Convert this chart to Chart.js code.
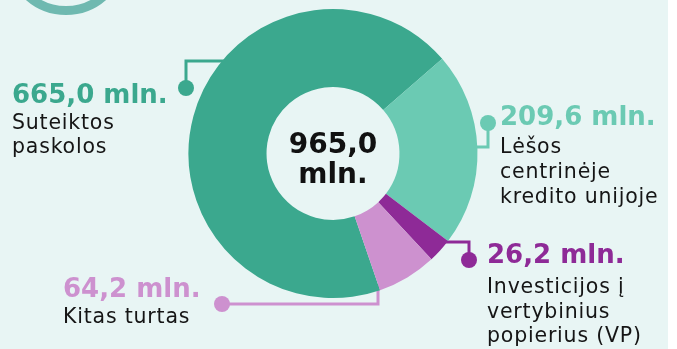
<!DOCTYPE html>
<html>
<head>
<meta charset="utf-8">
<script src="https://cdn.jsdelivr.net/npm/chart.js@4"></script>
<style>
  html, body { margin: 0; padding: 0; background: #ffffff; }
  canvas { display: block; }
</style>
</head>
<body>
<canvas id="assetsChart" width="677" height="349"></canvas>
<script>
// chart data
const categories = [
    ['Suteiktos', 'paskolos'],
    ['Lėšos', 'centrinėje', 'kredito unijoje'],
    ['Investicijos į', 'vertybinius', 'popierius (VP)'],
    ['Kitas turtas']
];
const values = [665.0, 209.6, 26.2, 64.2];
const totalValue = 965.0;
const colors = ['#3ba88e', '#6bcab3', '#8e2a97', '#cd91cf'];

const BG = '#e8f5f4';
const FONT = '"DejaVu Sans", Verdana, sans-serif';

// where each callout sits: dot, elbow and text block
const callouts = [
    { dot: [186, 88], lead: 'h', y: 61, text: [12, 103], lines: [129, 153] },
    { dot: [488, 123], lead: 'h', y: 147, text: [500, 125], lines: [153, 178, 203] },
    { dot: [469, 260], lead: 'h', y: 242, text: [487, 263], lines: [293, 318, 342] },
    { dot: [222, 304], lead: 'v', x: 378, text: [63, 297], lines: [323] }
];

function fmt(v) {
    return v.toFixed(1).replace('.', ',') + ' mln.';
}

const backdrop = {
    id: 'backdrop',
    beforeDraw(chart) {
        const c = chart.ctx;
        c.save();
        c.fillStyle = BG;
        c.fillRect(0, 0, 668, chart.height);
        // decorative ring in the corner
        c.strokeStyle = '#6fb9b0';
        c.lineWidth = 9;
        c.beginPath();
        c.arc(66, -46, 56.5, 0, Math.PI * 2);
        c.stroke();
        c.restore();
    }
};

const callout = {
    id: 'callout',
    beforeDatasetsDraw(chart) {
        const c = chart.ctx;
        const arc = chart.getDatasetMeta(0).data[0];
        const cx = arc.x, cy = arc.y, r = arc.outerRadius;
        c.save();
        callouts.forEach((o, i) => {
            c.strokeStyle = colors[i];
            c.fillStyle = colors[i];
            c.lineWidth = 3;
            c.beginPath();
            if (o.lead === 'h') {
                const dy = o.y - cy;
                const dx = Math.sqrt(Math.max(r * r - dy * dy, 0));
                const ex = o.dot[0] < cx ? cx - dx + 6 : cx + dx - 6;
                c.moveTo(ex, o.y);
                c.lineTo(o.dot[0], o.y);
                c.lineTo(o.dot[0], o.dot[1]);
            } else {
                const dx = o.x - cx;
                const dy = Math.sqrt(Math.max(r * r - dx * dx, 0));
                c.moveTo(o.x, cy + dy - 6);
                c.lineTo(o.x, o.dot[1]);
                c.lineTo(o.dot[0], o.dot[1]);
            }
            c.stroke();
            c.beginPath();
            c.arc(o.dot[0], o.dot[1], 8, 0, Math.PI * 2);
            c.fill();
        });
        c.restore();
    },
    afterDraw(chart) {
        const c = chart.ctx;
        const arc = chart.getDatasetMeta(0).data[0];
        c.save();
        c.textBaseline = 'alphabetic';
        callouts.forEach((o, i) => {
            c.textAlign = 'left';
            c.letterSpacing = '0px';
            c.fillStyle = colors[i];
            c.font = 'bold 26px ' + FONT;
            c.fillText(fmt(values[i]), o.text[0], o.text[1]);
            c.fillStyle = '#151515';
            c.font = '20.5px ' + FONT;
            c.letterSpacing = '0.8px';
            categories[i].forEach((line, j) => {
                c.fillText(line, o.text[0], o.lines[j]);
            });
        });
        // total in the hole
        c.letterSpacing = '0px';
        c.textAlign = 'center';
        c.fillStyle = '#111111';
        c.font = 'bold 28px ' + FONT;
        const parts = fmt(totalValue).split(' ');
        c.fillText(parts[0], arc.x, 153);
        c.fillText(parts[1], arc.x, 183);
        c.restore();
    }
};

document.addEventListener('DOMContentLoaded', () => {
    const ctx = document.getElementById('assetsChart');
    new Chart(ctx, {
        type: 'doughnut',
        data: {
            labels: categories.map(l => l.join(' ')),
            datasets: [{
                data: values,
                backgroundColor: colors,
                borderWidth: 0,
                hoverOffset: 0
            }]
        },
        options: {
            responsive: false,
            animation: false,
            rotation: 161,
            cutout: '46%',
            layout: {
                padding: { left: 188, right: 199, top: 9, bottom: 51 }
            },
            plugins: {
                legend: { display: false },
                tooltip: { enabled: false }
            }
        },
        plugins: [backdrop, callout]
    });
});
</script>
</body>
</html>
